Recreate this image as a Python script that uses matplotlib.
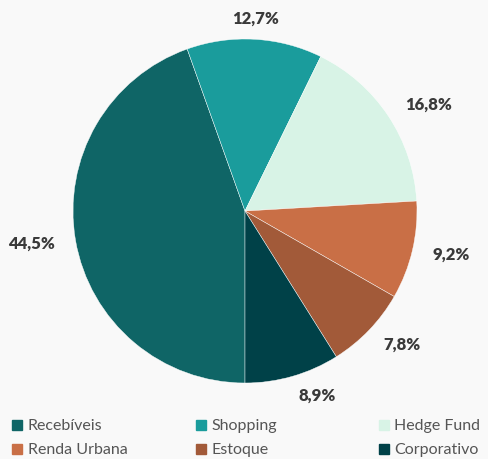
import matplotlib.pyplot as plt
from matplotlib.lines import Line2D

# dados do gráfico
categorias = ['Recebíveis', 'Shopping', 'Hedge Fund', 'Renda Urbana', 'Estoque', 'Corporativo']
valores = [44.5, 12.7, 16.8, 9.2, 7.8, 8.9]
cores = ['#0f6566', '#1a9c9c', '#d8f3e6', '#c96f46', '#a25a39', '#004148']
rotulos = [f'{v:.1f}%'.replace('.', ',') for v in valores]

FUNDO = '#f9f9f9'
plt.rcParams['font.family'] = ['Lato', 'DejaVu Sans']

fig = plt.figure(figsize=(4.89, 4.59), dpi=100, facecolor=FUNDO)
ax = fig.add_axes([0, 49 / 459, 1, 410 / 459])
ax.set_facecolor(FUNDO)

wedges, textos = ax.pie(
    valores, labels=rotulos, colors=cores, startangle=270, counterclock=False,
    labeldistance=1.12, wedgeprops=dict(linewidth=0.3, edgecolor='white'),
    textprops=dict(fontsize=12, fontweight='heavy', color='#3a3a3a'),
)
# 12,7% fica centralizado no topo
textos[1].set_ha('center')

ax.set_xlim(-245 / 172, 244 / 172)
ax.set_ylim(-199 / 172, 211 / 172)
ax.set_aspect('equal')
ax.axis('off')

# legenda em 3 colunas, preenchida por linha
x_cols = [0.024, 0.400, 0.774]
for c, x0 in enumerate(x_cols):
    idx = [c, c + 3]
    handles = [Line2D([], [], marker='s', linestyle='none', markersize=7,
                      markerfacecolor=cores[i], markeredgecolor=cores[i]) for i in idx]
    fig.legend(handles, [categorias[i] for i in idx], loc='upper left',
               bbox_to_anchor=(x0, 40 / 459), frameon=False, fontsize=11.5,
               labelcolor='#555555', handlelength=0.7, handletextpad=0.3,
               borderaxespad=0, borderpad=0, labelspacing=0.62)

fig.savefig('out.png', facecolor=FUNDO)
